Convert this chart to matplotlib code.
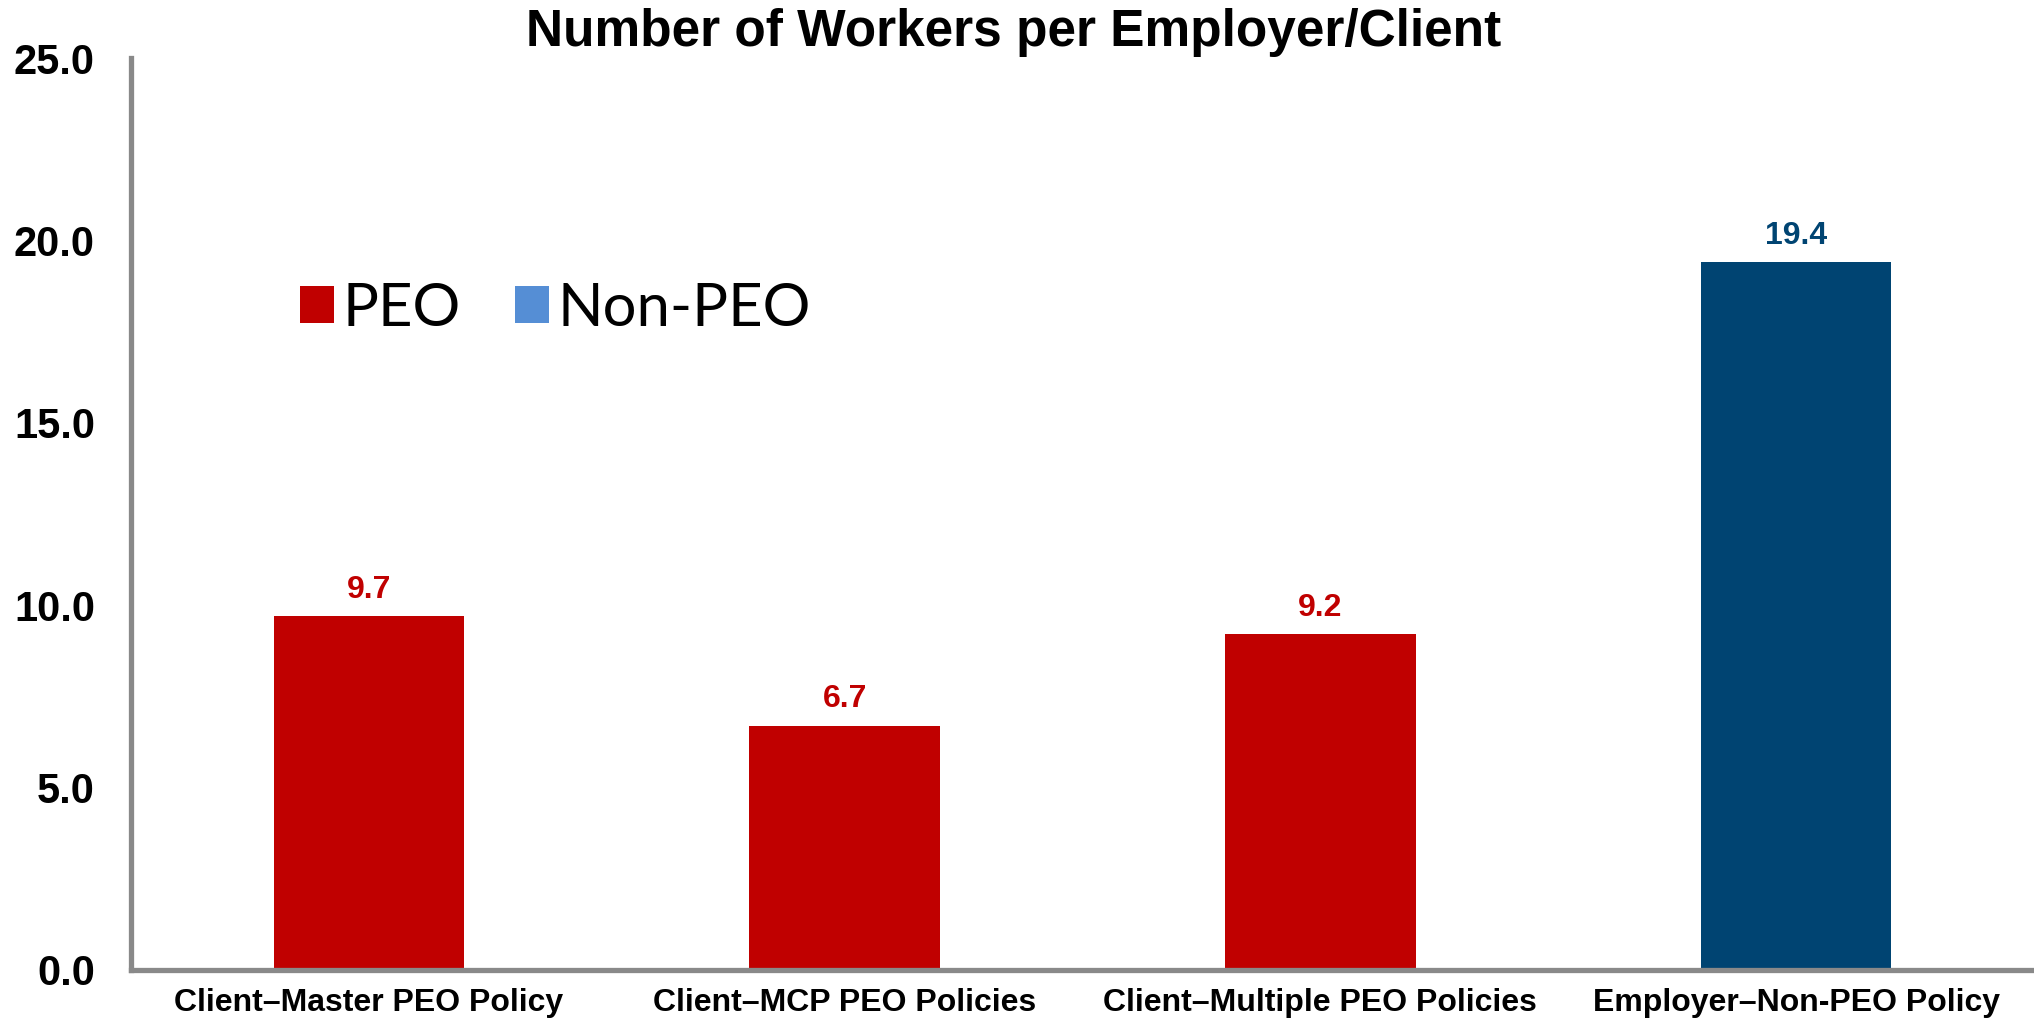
import matplotlib.pyplot as plt
from matplotlib.patches import Patch

categories = ['Client\u2013Master PEO Policy', 'Client\u2013MCP PEO Policies',
              'Client\u2013Multiple PEO Policies', 'Employer\u2013Non-PEO Policy']
values = [9.7, 6.7, 9.2, 19.4]
groups = ['PEO', 'PEO', 'PEO', 'Non-PEO']
yticks = [0, 5, 10, 15, 20, 25]

bar_colors = {'PEO': '#C00000', 'Non-PEO': '#004472'}
legend_colors = {'PEO': '#C00000', 'Non-PEO': '#558ED5'}

plt.rcParams['font.family'] = ['Liberation Sans', 'DejaVu Sans']

fig = plt.figure(figsize=(20.34, 10.21), dpi=100)
ax = fig.add_axes([0.0644, 0.05, 0.9356, 0.893])

x = range(len(categories))
colors = [bar_colors[g] for g in groups]
bars = ax.bar(x, values, width=0.4, color=colors, zorder=2)

# value labels above each bar
for b, v, g in zip(bars, values, groups):
    ax.annotate(f'{v:.1f}', (b.get_x() + b.get_width() / 2, v),
                xytext=(0, 8), textcoords='offset points',
                ha='center', va='bottom', fontsize=23, fontweight='bold',
                color=bar_colors[g])

ax.set_xlim(-0.5, 3.5)
ax.set_ylim(0, 25)
ax.set_yticks(yticks)
ax.set_yticklabels([f'{t:.1f}' for t in yticks], fontsize=30, fontweight='bold')
ax.set_xticks(list(x))
ax.set_xticklabels(categories, fontsize=23, fontweight='bold')
ax.tick_params(axis='y', length=0, pad=26)
ax.tick_params(axis='x', length=0, pad=13)

for s in ['top', 'right']:
    ax.spines[s].set_visible(False)
for s in ['left', 'bottom']:
    ax.spines[s].set_color('#898989')
    ax.spines[s].set_linewidth(3.8)

fig.text(0.4983, 0.968, 'Number of Workers per Employer/Client', fontsize=37,
         fontweight='bold', ha='center', va='center')

handles = [Patch(facecolor=legend_colors[k], label=k) for k in ['PEO', 'Non-PEO']]
ax.legend(handles=handles, loc='center left', bbox_to_anchor=(0.0886, 0.725),
          ncol=2, frameon=False, handlelength=0.57, handleheight=0.57,
          handletextpad=0.15, columnspacing=0.9, borderpad=0, borderaxespad=0,
          prop={'family': ['Lato', 'DejaVu Sans'], 'size': 43})

fig.savefig('out.png', dpi=100)
